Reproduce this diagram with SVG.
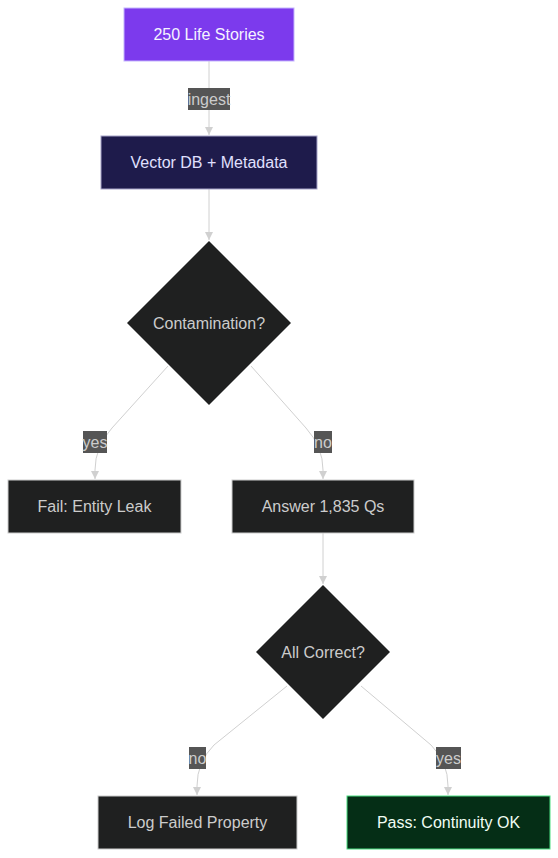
<svg xmlns="http://www.w3.org/2000/svg" width="558" height="858" viewBox="0 0 558 858">
<defs>
<marker id="arr" viewBox="0 0 10 10" refX="10" refY="5" markerWidth="8" markerHeight="8" markerUnits="userSpaceOnUse" orient="auto">
<path d="M0,0 L10,5 L0,10 z" fill="#d0d0d0"/>
</marker>
<style>
.t{font-family:"Liberation Sans",Arial,sans-serif;font-size:16px;text-anchor:middle;dominant-baseline:central}
.e{fill:none;stroke:#d0d0d0;stroke-width:1;marker-end:url(#arr)}
.lb{fill:#555555}
.lt{fill:#cccccc}
.dk{fill:#1f2020;stroke:#cccccc;stroke-width:1}
</style>
</defs>
<rect width="558" height="858" fill="#ffffff"/>
<g id="connectors">
<path class="e" d="M209,61 L209,135"/>
<path class="e" d="M209,189 L209,240"/>
<path class="e" d="M168,366 L112,428 Q95,447 95,470 L95,479"/>
<path class="e" d="M251,366 L306,428 Q323,447 323,470 L323,479"/>
<path class="e" d="M323,533 L323,584"/>
<path class="e" d="M287,686 L214,745 Q197,762 197,786 L197,795"/>
<path class="e" d="M361,686 L431,745 Q448,762 448,786 L448,795"/>
<rect class="lb" x="188" y="88" width="42" height="22"/>
<text class="t lt" x="209" y="99">ingest</text>
<rect class="lb" x="83" y="431" width="24" height="22"/>
<text class="t lt" x="95" y="442">yes</text>
<rect class="lb" x="314" y="431" width="18" height="22"/>
<text class="t lt" x="323" y="442">no</text>
<rect class="lb" x="189" y="747" width="17" height="22"/>
<text class="t lt" x="197.5" y="758">no</text>
<rect class="lb" x="436" y="747" width="25" height="22"/>
<text class="t lt" x="448.5" y="758">yes</text>
</g>
<g id="n1">
<rect x="124" y="8" width="170" height="53" fill="#7c3aed" stroke="#c4b5fd" stroke-width="1"/>
<text class="t" x="209" y="34.5" fill="#f5f3ff">250 Life Stories</text>
</g>
<g id="n2">
<rect x="101" y="136" width="216" height="53" fill="#1e1b4b" stroke="#a5a3c8" stroke-width="1"/>
<text class="t" x="209" y="162.5" fill="#e0e0ff">Vector DB + Metadata</text>
</g>
<g id="n3">
<polygon points="209,241 291,323 209,405 127,323" fill="#1f2020"/>
<text class="t lt" x="209" y="323">Contamination?</text>
</g>
<g id="n4">
<rect class="dk" x="8" y="480" width="173" height="53"/>
<text class="t lt" x="94.5" y="506.5">Fail: Entity Leak</text>
</g>
<g id="n5">
<rect class="dk" x="232" y="480" width="182" height="53"/>
<text class="t lt" x="323" y="506.5">Answer 1,835 Qs</text>
</g>
<g id="n6">
<polygon points="323,585 390,652 323,719 256,652" fill="#1f2020"/>
<text class="t lt" x="323" y="652">All Correct?</text>
</g>
<g id="n7">
<rect class="dk" x="98" y="796" width="199" height="53"/>
<text class="t lt" x="197.5" y="822.5">Log Failed Property</text>
</g>
<g id="n8">
<rect x="347" y="796" width="203" height="53" fill="#052e16" stroke="#4ade80" stroke-width="1"/>
<text class="t" x="448.5" y="822.5" fill="#f0fdf4">Pass: Continuity OK</text>
</g>
</svg>
